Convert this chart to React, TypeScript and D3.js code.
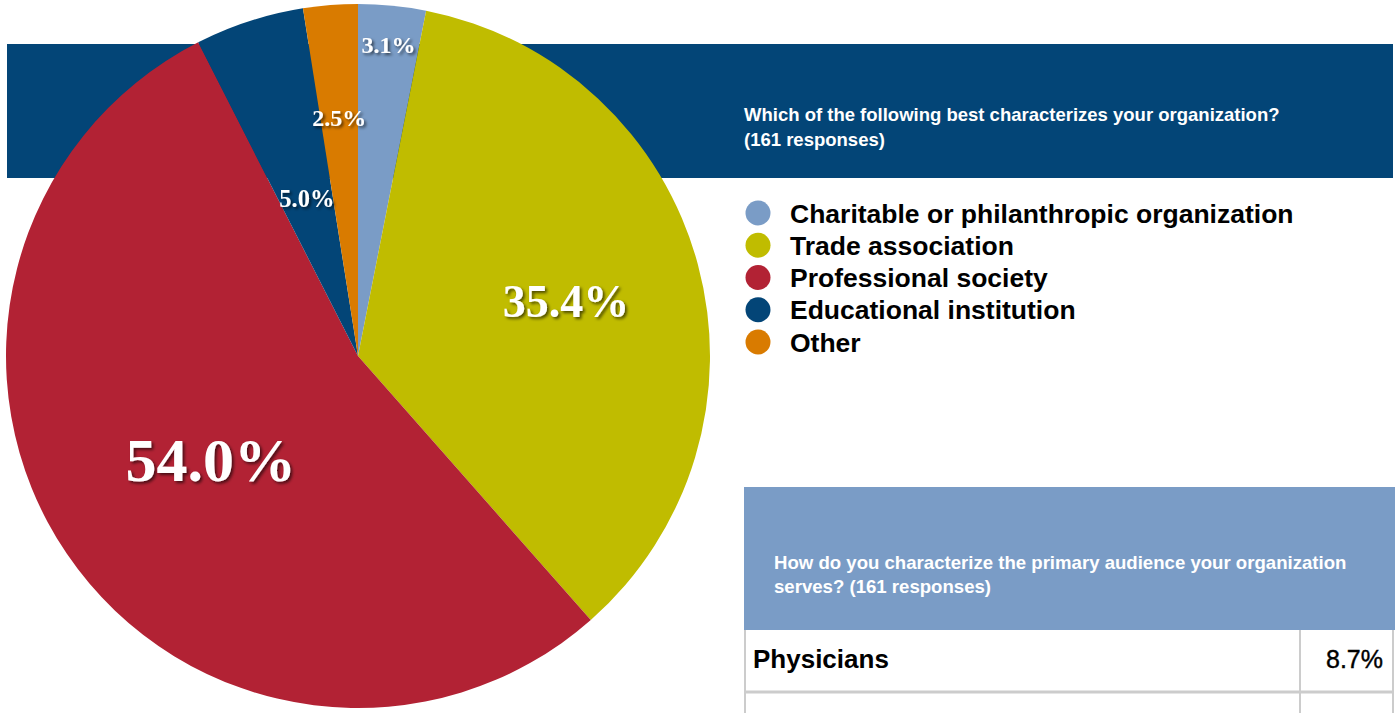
import React from "react";
import * as d3 from "d3";

const categories = [
  "Charitable or philanthropic organization",
  "Trade association",
  "Professional society",
  "Educational institution",
  "Other",
];
const values = [3.1, 35.4, 54.0, 5.0, 2.5];
const colors = ["#7A9CC6", "#C0BC00", "#B22234", "#034577", "#D97B00"];
const questionTitle = [
  "Which of the following best characterizes your organization?",
  "(161 responses)",
];
const tableTitle = [
  "How do you characterize the primary audience your organization",
  "serves? (161 responses)",
];
const tableRows = ["Physicians", ""];
const tableValues = ["8.7%", ""];

// layout (not data)
const labelRadiusFactor = [0.89, 0.6, 0.52, 0.47, 0.68];
const labelFontSize = [24, 46, 62, 24.5, 24];
const labelShiftX = [0, 4, 4, 0, 0];

const W = 1395;
const H = 713;

export default function App() {
  const cx = 358;
  const cy = 356;
  const r = 352;
  const pie = d3.pie<number>().sort(null).value((d) => d)(values);
  const arc = d3.arc<d3.PieArcDatum<number>>().innerRadius(0).outerRadius(r);
  const sans = "'Liberation Sans', Arial, Helvetica, sans-serif";
  const serif = "'Liberation Serif', 'Times New Roman', serif";

  const legendY = d3.scaleLinear().domain([0, 4]).range([213, 342]);
  const rowY = d3.scaleLinear().domain([0, 1]).range([630, 692]);

  return (
    <svg width={W} height={H} style={{ position: "absolute", left: 0, top: 0, background: "#fff" }}>
      <defs>
        <filter id="shadow" x="-20%" y="-20%" width="140%" height="160%">
          <feDropShadow dx="2" dy="2" stdDeviation="1.5" floodColor="#000" floodOpacity="0.6" />
        </filter>
      </defs>
      {/* banner */}
      <rect x={7} y={44} width={1386} height={134} fill="#034577" />
      {questionTitle.map((t, i) => (
        <text key={i} x={744} y={121 + i * 25} fill="#fff" fontFamily={sans} fontWeight="bold" fontSize={18.5}>
          {t}
        </text>
      ))}
      {/* pie */}
      <g transform={`translate(${cx},${cy})`}>
        {pie.map((p, i) => (
          <path key={i} d={arc(p) || ""} fill={colors[i]} />
        ))}
        {pie.map((p, i) => {
          const a = (p.startAngle + p.endAngle) / 2;
          const rr = r * labelRadiusFactor[i];
          const x = Math.sin(a) * rr + labelShiftX[i];
          const y = -Math.cos(a) * rr;
          return (
            <text
              key={"l" + i}
              x={x}
              y={y}
              dy="0.35em"
              textAnchor="middle"
              fill="#fff"
              fontFamily={serif}
              fontWeight="bold"
              fontSize={labelFontSize[i]}
              filter="url(#shadow)"
            >
              {values[i].toFixed(1)}%
            </text>
          );
        })}
      </g>
      {/* legend */}
      {categories.map((c, i) => (
        <g key={c}>
          <circle cx={758} cy={legendY(i)} r={12.5} fill={colors[i]} />
          <text x={790} y={legendY(i) + 9.5} fontFamily={sans} fontWeight="bold" fontSize={26.5} fill="#000">
            {c}
          </text>
        </g>
      ))}
      {/* table */}
      <rect x={744} y={487} width={651} height={143} fill="#7A9CC6" />
      {tableTitle.map((t, i) => (
        <text key={i} x={774} y={569 + i * 24} fill="#fff" fontFamily={sans} fontWeight="bold" fontSize={18.6}>
          {t}
        </text>
      ))}
      {tableRows.map((t, i) => (
        <g key={"r" + i}>
          <text x={753} y={rowY(i) + 38} fontFamily={sans} fontWeight="bold" fontSize={26} fill="#000">
            {t}
          </text>
          <text x={1383} y={rowY(i) + 38} textAnchor="end" fontFamily={sans} fontSize={25} fill="#000" stroke="#000" strokeWidth={0.4}>
            {tableValues[i]}
          </text>
          <line x1={744} x2={1393} y1={rowY(i) + 62} y2={rowY(i) + 62} stroke="#ccc" strokeWidth={3} />
        </g>
      ))}
      <line x1={745} x2={745} y1={630} y2={H} stroke="#ccc" strokeWidth={2} />
      <line x1={1300} x2={1300} y1={630} y2={H} stroke="#ccc" strokeWidth={2} />
      <line x1={1393} x2={1393} y1={630} y2={H} stroke="#ccc" strokeWidth={2} />
    </svg>
  );
}
